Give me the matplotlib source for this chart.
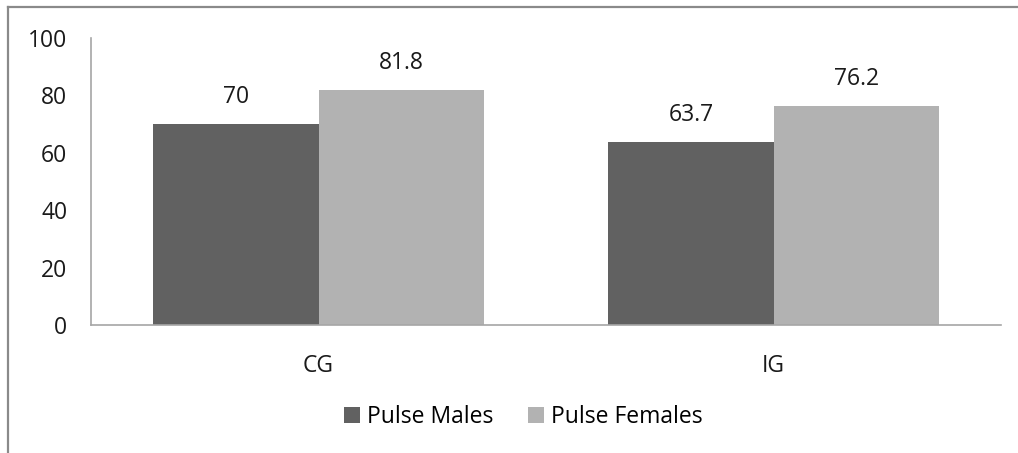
import matplotlib.pyplot as plt
from matplotlib.lines import Line2D
import numpy as np

groups = ['CG', 'IG']
males = [70, 63.7]
females = [81.8, 76.2]
male_labels = ['70', '63.7']
female_labels = ['81.8', '76.2']
y_ticks = [0, 20, 40, 60, 80, 100]

plt.rcParams['font.family'] = ['Open Sans', 'DejaVu Sans']
fs = 16.5

fig = plt.figure(figsize=(10.18, 4.53), dpi=100)
ax = fig.add_axes([0.0894, 0.2826, 0.8939, 0.6335])

x = np.arange(len(groups))
w = 0.363
b1 = ax.bar(x - w / 2, males, w, color='#616161', label='Pulse Males')
b2 = ax.bar(x + w / 2, females, w, color='#b2b2b2', label='Pulse Females')

for bars, labs in ((b1, male_labels), (b2, female_labels)):
    for r, t in zip(bars, labs):
        ax.annotate(t, (r.get_x() + r.get_width() / 2, r.get_height()),
                    xytext=(0, 11), textcoords='offset points',
                    ha='center', va='bottom', fontsize=fs, color='#1a1a1a')

ax.set_xlim(-0.5, 1.5)
ax.set_ylim(0, 100)
ax.set_yticks(y_ticks)
ax.set_xticks(x)
ax.set_xticklabels(groups)
ax.tick_params(axis='both', length=0, labelsize=fs, colors='#1a1a1a')
ax.tick_params(axis='y', pad=17)
ax.tick_params(axis='x', pad=21)
for s in ('top', 'right'):
    ax.spines[s].set_visible(False)
for s in ('left', 'bottom'):
    ax.spines[s].set_color('#a6a6a6')
    ax.spines[s].set_linewidth(1.2)

fig.legend(loc='center', bbox_to_anchor=(0.514, 0.0795), ncol=2, frameon=False,
           fontsize=fs, handlelength=0.7, handleheight=0.7, handletextpad=0.3,
           columnspacing=1.5)

# outer frame (only left and top edges visible in the crop)
fig.add_artist(Line2D([8 / 1018, 8 / 1018], [0, 1 - 7 / 453], transform=fig.transFigure,
                      color='#8a8a8a', lw=1.6))
fig.add_artist(Line2D([8 / 1018, 1], [1 - 7 / 453, 1 - 7 / 453], transform=fig.transFigure,
                      color='#8a8a8a', lw=1.6))

fig.savefig('out.png', dpi=100)
